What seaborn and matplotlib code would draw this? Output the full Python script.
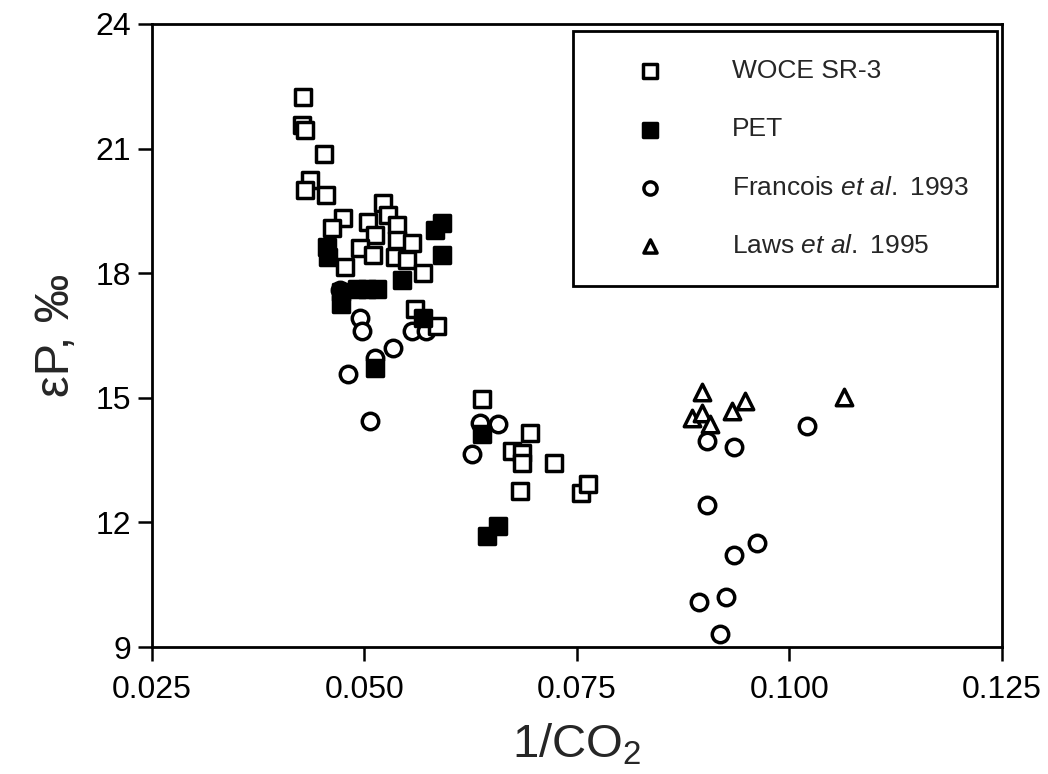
import matplotlib
matplotlib.use('Agg')
import matplotlib.pyplot as plt
import seaborn as sns

# WOCE SR-3 (open squares)
woce_x = [0.0428, 0.0427, 0.0430, 0.0452, 0.0436, 0.0430, 0.0455, 0.0522, 0.0528, 0.0475,
          0.0538, 0.0462, 0.0504, 0.0512, 0.0538, 0.0556, 0.0495, 0.0510, 0.0536, 0.0550,
          0.0477, 0.0569, 0.0559, 0.0585, 0.0638, 0.0695, 0.0674, 0.0685, 0.0685, 0.0723,
          0.0683, 0.0755, 0.0763]
woce_y = [22.24, 21.56, 21.44, 20.87, 20.24, 20.00, 19.88, 19.68, 19.39, 19.32,
          19.15, 19.08, 19.23, 18.91, 18.79, 18.72, 18.60, 18.43, 18.38, 18.31,
          18.14, 18.00, 17.15, 16.74, 14.96, 14.16, 13.73, 13.68, 13.44, 13.44,
          12.76, 12.72, 12.93]

# PET (filled squares)
pet_x = [0.0591, 0.0583, 0.0591, 0.0456, 0.0457, 0.0544, 0.0491, 0.0503, 0.0515, 0.0473,
         0.0472, 0.0569, 0.0512, 0.0638, 0.0657, 0.0644]
pet_y = [19.20, 19.03, 18.43, 18.62, 18.38, 17.83, 17.63, 17.63, 17.63, 17.55,
         17.27, 16.93, 15.73, 14.14, 11.92, 11.68]

# Francois et al. 1993 (open circles)
fra_x = [0.0471, 0.0495, 0.0497, 0.0556, 0.0573, 0.0534, 0.0512, 0.0481, 0.0507, 0.0636,
         0.0657, 0.0627, 0.0903, 0.0935, 0.1021, 0.0903, 0.0962, 0.0935, 0.0925, 0.0894,
         0.0918]
fra_y = [17.59, 16.91, 16.62, 16.62, 16.62, 16.19, 15.97, 15.58, 14.45, 14.40,
         14.38, 13.65, 13.97, 13.82, 14.33, 12.42, 11.51, 11.22, 10.21, 10.09,
         9.31]

# Laws et al. 1995 (open triangles)
laws_x = [0.0897, 0.0948, 0.0932, 0.0885, 0.0897, 0.0906, 0.1064]
laws_y = [15.13, 14.93, 14.69, 14.52, 14.64, 14.38, 15.01]

x_ticks = [0.025, 0.050, 0.075, 0.100, 0.125]
y_ticks = [9, 12, 15, 18, 21, 24]

sns.set_style('ticks')
plt.rcParams['font.family'] = ['Liberation Sans', 'DejaVu Sans']
plt.rcParams['mathtext.fontset'] = 'custom'
plt.rcParams['mathtext.rm'] = 'Liberation Sans'
plt.rcParams['mathtext.it'] = 'Liberation Sans:italic'

fig = plt.figure(figsize=(10.48, 7.74), dpi=100)
ax = fig.add_axes([0.145, 0.164, 0.811, 0.805])

msize = 140
lw = 2.5
sns.scatterplot(x=fra_x, y=fra_y, ax=ax, marker='o', s=msize, color='white',
                edgecolor='black', linewidth=lw, zorder=2)
sns.scatterplot(x=woce_x, y=woce_y, ax=ax, marker='s', s=msize, color='white',
                edgecolor='black', linewidth=lw, zorder=3)
sns.scatterplot(x=pet_x, y=pet_y, ax=ax, marker='s', s=msize, color='black',
                edgecolor='black', linewidth=lw, zorder=4)
sns.scatterplot(x=laws_x, y=laws_y, ax=ax, marker='^', s=msize, color='white',
                edgecolor='black', linewidth=lw, zorder=5)

fra_h, woce_h, pet_h, laws_h = ax.collections[:4]
leg = ax.legend([woce_h, pet_h, fra_h, laws_h],
                ['WOCE SR-3', 'PET', r'Francois $\it{et\ al.}$ 1993', r'Laws $\it{et\ al.}$ 1995'],
                loc='upper right', bbox_to_anchor=(0.994, 0.988), fontsize=19,
                frameon=True, fancybox=False, markerscale=0.8,
                borderpad=1.05, handlelength=3.8, handletextpad=1.2, labelspacing=1.3,
                borderaxespad=0)
leg.get_frame().set_edgecolor('black')
leg.get_frame().set_linewidth(2)
leg.get_frame().set_alpha(1)

ax.set_xlim(0.025, 0.125)
ax.set_ylim(9, 24)
ax.set_xticks(x_ticks)
ax.set_xticklabels([f'{t:.3f}' for t in x_ticks])
ax.set_yticks(y_ticks)
ax.tick_params(direction='out', length=10, width=1.8, labelsize=23, colors='black')
ax.tick_params(axis='x', pad=10)
ax.tick_params(axis='y', pad=5)
for sp in ax.spines.values():
    sp.set_visible(True)
    sp.set_linewidth(2)
    sp.set_color('black')

ax.set_xlabel('1/CO$_2$', fontsize=34, labelpad=12)
ax.set_ylabel('εP, ‰', fontsize=35, labelpad=12)

fig.savefig('out.png', dpi=100)
